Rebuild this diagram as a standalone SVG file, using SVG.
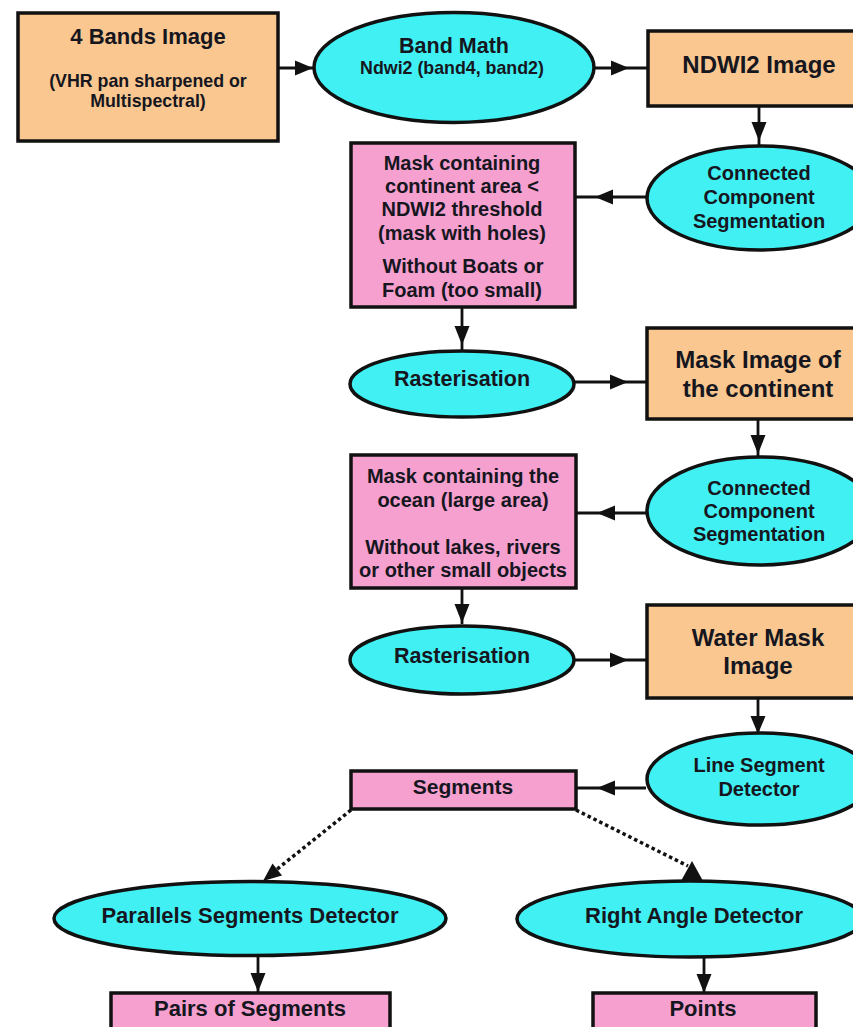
<svg xmlns="http://www.w3.org/2000/svg" width="853" height="1027" viewBox="0 0 853 1027">
<style>
text{font-family:"Liberation Sans",Arial,Helvetica,sans-serif;font-weight:bold;fill:#16161f;text-anchor:middle}
.box{stroke:#111;stroke-width:3.5}
.org{fill:#f9c78f}
.pnk{fill:#f5a0ce}
.cyn{fill:#40f0f2}
.ln{stroke:#111;stroke-width:2.8;fill:none}
.dot{stroke:#111;stroke-width:3.5;fill:none;stroke-dasharray:3.5 3}
.ah{fill:#111}
.t24{font-size:24px}
.t22{font-size:22px}
.t20{font-size:20px}
.t18{font-size:17.8px}
</style>
<rect width="853" height="1027" fill="#ffffff"/>
<g id="connectors">
<line class="ln" x1="279" y1="68" x2="313" y2="68"/><polygon class="ah" points="295,60.5 313,68 295,75.5"/>
<line class="ln" x1="595" y1="68" x2="648" y2="68"/><polygon class="ah" points="611,60.5 629,68 611,75.5"/>
<line class="ln" x1="759" y1="106" x2="759" y2="146"/><polygon class="ah" points="751.5,122 759,141 766.5,122"/>
<line class="ln" x1="647" y1="197" x2="576" y2="197"/><polygon class="ah" points="613,189.5 595,197 613,204.5"/>
<line class="ln" x1="462" y1="307" x2="462" y2="352"/><polygon class="ah" points="454.5,326 462,345 469.5,326"/>
<line class="ln" x1="575" y1="382" x2="647" y2="382"/><polygon class="ah" points="610,374.5 628,382 610,389.5"/>
<line class="ln" x1="758" y1="419" x2="758" y2="457"/><polygon class="ah" points="750.5,435 758,454 765.5,435"/>
<line class="ln" x1="646" y1="513" x2="576" y2="513"/><polygon class="ah" points="615,505.5 597,513 615,520.5"/>
<line class="ln" x1="462" y1="588" x2="462" y2="624"/><polygon class="ah" points="454.5,604 462,623 469.5,604"/>
<line class="ln" x1="575" y1="660" x2="647" y2="660"/><polygon class="ah" points="610,652.5 628,660 610,667.5"/>
<line class="ln" x1="758" y1="698" x2="758" y2="733"/><polygon class="ah" points="750.5,716 758,734 765.5,716"/>
<line class="ln" x1="646" y1="788" x2="576" y2="788"/><polygon class="ah" points="615,780.5 597,788 615,795.5"/>
<line class="dot" x1="351" y1="810" x2="276" y2="870"/><polygon class="ah" points="263,881 282,875.5 272.5,863.5"/>
<line class="dot" x1="576" y1="810" x2="688" y2="866"/><polygon class="ah" points="681,881 703,881 692,861"/>
<line class="ln" x1="258" y1="955" x2="258" y2="993"/><polygon class="ah" points="250.5,973 258,992 265.5,973"/>
<line class="ln" x1="704" y1="957" x2="704" y2="993"/><polygon class="ah" points="696.5,974 704,993 711.5,974"/>
</g>
<g id="n1">
<rect class="box org" x="18" y="13" width="260" height="128"/>
<text class="t22" x="148" y="44">4 Bands Image</text>
<text class="t18" x="148" y="87">(VHR pan sharpened or</text>
<text class="t18" x="148" y="107">Multispectral)</text>
</g>
<g id="n2">
<ellipse class="box cyn" cx="454" cy="67.5" rx="140" ry="55"/>
<text style="font-size:21.5px" x="454" y="53">Band Math</text>
<text class="t18" x="452" y="74">Ndwi2 (band4, band2)</text>
</g>
<g id="n3">
<rect class="box org" x="648" y="31" width="215" height="75"/>
<text class="t24" x="759" y="73">NDWI2 Image</text>
</g>
<g id="n4">
<ellipse class="box cyn" cx="760" cy="198" rx="113" ry="52"/>
<text class="t20" x="759" y="180">Connected</text>
<text class="t20" x="759" y="204">Component</text>
<text class="t20" x="759" y="228">Segmentation</text>
</g>
<g id="n5">
<rect class="box pnk" x="351" y="143" width="224" height="164"/>
<text class="t20" x="462" y="170">Mask containing</text>
<text class="t20" x="462" y="193">continent area &lt;</text>
<text class="t20" x="462" y="216">NDWI2 threshold</text>
<text class="t20" x="462" y="240">(mask with holes)</text>
<text class="t20" x="463" y="273">Without Boats or</text>
<text class="t20" x="462" y="297">Foam (too small)</text>
</g>
<g id="n6">
<ellipse class="box cyn" cx="462" cy="384" rx="112" ry="33"/>
<text style="font-size:21.5px" x="462" y="386">Rasterisation</text>
</g>
<g id="n7">
<rect class="box org" x="647" y="328" width="215" height="91"/>
<text class="t24" x="758" y="368">Mask Image of</text>
<text class="t24" x="758" y="397">the continent</text>
</g>
<g id="n8">
<ellipse class="box cyn" cx="760" cy="511" rx="113" ry="54"/>
<text class="t20" x="759" y="495">Connected</text>
<text class="t20" x="759" y="518">Component</text>
<text class="t20" x="759" y="541">Segmentation</text>
</g>
<g id="n9">
<rect class="box pnk" x="351" y="455" width="225" height="133"/>
<text class="t20" x="463" y="483">Mask containing the</text>
<text class="t20" x="463" y="507">ocean (large area)</text>
<text class="t20" x="463" y="554">Without lakes, rivers</text>
<text class="t20" x="463" y="577">or other small objects</text>
</g>
<g id="n10">
<ellipse class="box cyn" cx="462" cy="660" rx="112" ry="34"/>
<text style="font-size:21.5px" x="462" y="663">Rasterisation</text>
</g>
<g id="n11">
<rect class="box org" x="647" y="605" width="215" height="93"/>
<text class="t24" x="758" y="646">Water Mask</text>
<text class="t24" x="758" y="674">Image</text>
</g>
<g id="n12">
<ellipse class="box cyn" cx="760" cy="779" rx="113" ry="46"/>
<text class="t20" x="759" y="772">Line Segment</text>
<text class="t20" x="759" y="796">Detector</text>
</g>
<g id="n13">
<rect class="box pnk" x="351" y="771" width="225" height="38"/>
<text style="font-size:21px" x="463" y="794">Segments</text>
</g>
<g id="n14">
<ellipse class="box cyn" cx="250" cy="918.5" rx="196" ry="37"/>
<text class="t22" x="250" y="923">Parallels Segments Detector</text>
</g>
<g id="n15">
<ellipse class="box cyn" cx="690" cy="919" rx="173" ry="38"/>
<text class="t22" x="694" y="923">Right Angle Detector</text>
</g>
<g id="n16">
<rect class="box pnk" x="111" y="993" width="279" height="50"/>
<text class="t22" x="250" y="1016">Pairs of Segments</text>
</g>
<g id="n17">
<rect class="box pnk" x="593" y="993" width="223" height="50"/>
<text class="t22" x="703" y="1016">Points</text>
</g>
</svg>
